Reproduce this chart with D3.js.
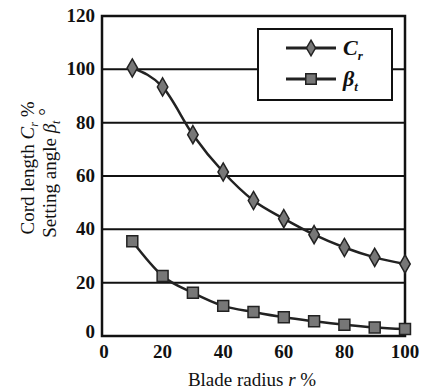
<!DOCTYPE html>
<html>
<head>
<meta charset="utf-8">
<script src="https://cdn.jsdelivr.net/npm/d3@7"></script>
<style>
  body { margin: 0; background: #fff; }
</style>
</head>
<body>
<div id="chart"></div>
<script>
// values
const radius = [10, 20, 30, 40, 50, 60, 70, 80, 90, 100];
const cordLength = [100.5, 93.4, 75.5, 61.5, 50.8, 44, 38, 33.2, 29.5, 27];
const settingAngle = [35.5, 22.5, 16.2, 11.3, 9, 7, 5.5, 4.2, 3.2, 2.6];
const xTicks = [0, 20, 40, 60, 80, 100];
const yTicks = [0, 20, 40, 60, 80, 100, 120];

const width = 423, height = 391;
const margin = { top: 16, right: 18, bottom: 55, left: 102 };
const serif = 'Liberation Serif';

const svg = d3.select('#chart')
  .append('svg')
  .attr('width', width)
  .attr('height', height);

const x = d3.scaleLinear().domain([0, 100]).range([margin.left, width - margin.right]);
const y = d3.scaleLinear().domain([0, 120]).range([height - margin.bottom, margin.top]);

// horizontal grid lines
svg.append('g')
  .selectAll('line')
  .data(yTicks.filter(d => d > 0 && d < 120))
  .enter()
  .append('line')
  .attr('x1', x(0))
  .attr('x2', x(100))
  .attr('y1', d => y(d))
  .attr('y2', d => y(d))
  .attr('stroke', '#111')
  .attr('stroke-width', 2);

// frame
svg.append('rect')
  .attr('x', x(0))
  .attr('y', y(120))
  .attr('width', x(100) - x(0))
  .attr('height', y(0) - y(120))
  .attr('fill', 'none')
  .attr('stroke', '#111')
  .attr('stroke-width', 2.5);

// y tick labels
svg.append('g')
  .selectAll('text')
  .data(yTicks)
  .enter()
  .append('text')
  .attr('x', x(0) - 7)
  .attr('y', d => y(d) + (d === 0 ? 2 : 6))
  .attr('text-anchor', 'end')
  .attr('font-family', serif)
  .attr('font-size', 19)
  .attr('font-weight', 'bold')
  .attr('fill', '#111')
  .text(d => d);

// x tick labels
svg.append('g')
  .selectAll('text')
  .data(xTicks)
  .enter()
  .append('text')
  .attr('x', d => x(d) + (d === 0 ? 2 : 0))
  .attr('y', y(0) + 22)
  .attr('text-anchor', 'middle')
  .attr('font-family', serif)
  .attr('font-size', 19)
  .attr('font-weight', 'bold')
  .attr('fill', '#111')
  .text(d => d);

// axis titles
const xTitle = svg.append('text')
  .attr('x', 252)
  .attr('y', 386)
  .attr('text-anchor', 'middle')
  .attr('font-family', serif)
  .attr('font-size', 19)
  .attr('fill', '#111');
xTitle.append('tspan').text('Blade radius ');
xTitle.append('tspan').attr('font-style', 'italic').text('r');
xTitle.append('tspan').text(' %');

const yTitle1 = svg.append('text')
  .attr('transform', 'translate(34,168) rotate(-90)')
  .attr('text-anchor', 'middle')
  .attr('font-family', serif)
  .attr('font-size', 19)
  .attr('fill', '#111');
yTitle1.append('tspan').text('Cord length ');
yTitle1.append('tspan').attr('font-style', 'italic').text('C');
yTitle1.append('tspan').attr('font-style', 'italic').attr('font-size', 12).attr('dy', 4).text('r');
yTitle1.append('tspan').attr('dy', -4).text(' %');

const yTitle2 = svg.append('text')
  .attr('transform', 'translate(56,173) rotate(-90)')
  .attr('text-anchor', 'middle')
  .attr('font-family', serif)
  .attr('font-size', 19)
  .attr('fill', '#111');
yTitle2.append('tspan').text('Setting angle ');
yTitle2.append('tspan').attr('font-style', 'italic').text('β');
yTitle2.append('tspan').attr('font-style', 'italic').attr('font-size', 12).attr('dy', 4).text('t');
yTitle2.append('tspan').attr('dy', -8).text(' °');

const line = d3.line()
  .x(d => x(d[0]))
  .y(d => y(d[1]))
  .curve(d3.curveMonotoneX);

const series = [
  { name: 'C', sub: 'r', values: cordLength, symbol: d3.symbolDiamond, size: 95 },
  { name: 'β', sub: 't', values: settingAngle, symbol: d3.symbolSquare, size: 120 },
];

series.forEach(s => {
  const pts = radius.map((r, i) => [r, s.values[i]]);
  svg.append('path')
    .datum(pts)
    .attr('d', line)
    .attr('fill', 'none')
    .attr('stroke', '#222')
    .attr('stroke-width', 2.5);
  svg.append('g')
    .selectAll('path')
    .data(pts)
    .enter()
    .append('path')
    .attr('transform', d => `translate(${x(d[0])},${y(d[1])})`)
    .attr('d', d3.symbol().type(s.symbol).size(s.size))
    .attr('fill', '#777')
    .attr('stroke', '#222')
    .attr('stroke-width', 1.5);
});

// legend
const legend = svg.append('g');
legend.append('rect')
  .attr('x', 258)
  .attr('y', 29)
  .attr('width', 134)
  .attr('height', 71)
  .attr('fill', '#fff')
  .attr('stroke', '#111')
  .attr('stroke-width', 2);

series.forEach((s, i) => {
  const ly = 48 + i * 31;
  legend.append('line')
    .attr('x1', 286).attr('x2', 336)
    .attr('y1', ly).attr('y2', ly)
    .attr('stroke', '#222')
    .attr('stroke-width', 3);
  legend.append('path')
    .attr('transform', `translate(311,${ly})`)
    .attr('d', d3.symbol().type(s.symbol).size(i === 0 ? 70 : 110))
    .attr('fill', '#777')
    .attr('stroke', '#222')
    .attr('stroke-width', 1.5);
  const t = legend.append('text')
    .attr('x', 343)
    .attr('y', ly + 7)
    .attr('font-family', serif)
    .attr('font-size', 22)
    .attr('font-weight', 'bold')
    .attr('font-style', 'italic')
    .attr('fill', '#111');
  t.append('tspan').text(s.name);
  t.append('tspan').attr('font-size', 13).attr('dy', 5).text(s.sub);
});
</script>
</body>
</html>
